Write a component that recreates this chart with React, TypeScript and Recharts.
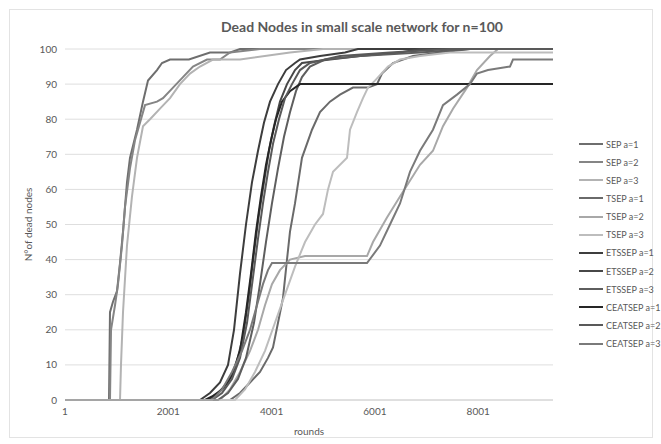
import React from "react";
import { LineChart, Line, XAxis, YAxis, CartesianGrid } from "recharts";

// rounds / dead nodes
const sepA1: [number, number][] = [[1, 0], [853, 0], [872, 25], [930, 28], [1008, 31], [1066, 39], [1124, 48], [1201, 62], [1259, 69], [1395, 77], [1511, 85], [1608, 91], [1782, 94], [1879, 96], [2034, 97], [2400, 97], [2808, 99], [3200, 99], [3389, 100], [9449, 100]];
const sepA2: [number, number][] = [[1, 0], [872, 0], [892, 20], [969, 27], [1027, 33], [1104, 44], [1163, 55], [1259, 66], [1356, 74], [1453, 79], [1550, 84], [1782, 85], [1898, 86], [2092, 89], [2285, 92], [2479, 95], [2750, 97], [3002, 97], [3195, 99], [3776, 100], [9449, 100]];
const sepA3: [number, number][] = [[1, 0], [1066, 0], [1085, 10], [1124, 25], [1201, 44], [1298, 58], [1395, 69], [1511, 78], [1647, 80], [1840, 83], [2034, 86], [2227, 90], [2421, 93], [2615, 95], [2866, 97], [3389, 97], [4357, 99], [5000, 100], [9449, 100]];
const tsepA1: [number, number][] = [[1, 0], [3195, 0], [3389, 2], [3583, 5], [3776, 8], [3931, 12], [4028, 15], [4125, 22], [4221, 29], [4299, 40], [4357, 48], [4454, 56], [4589, 69], [4783, 77], [4938, 82], [5131, 85], [5325, 87], [5576, 89], [5867, 89], [6041, 90], [6138, 93], [6351, 96], [6738, 98], [7261, 99], [7842, 100], [9449, 100]];
const tsepA2: [number, number][] = [[1, 0], [3002, 0], [3195, 3], [3389, 8], [3583, 14], [3738, 20], [3873, 27], [4008, 33], [4163, 37], [4357, 40], [4648, 41], [5848, 41], [5964, 45], [6235, 52], [6487, 58], [6874, 67], [7125, 71], [7319, 78], [7513, 83], [7784, 89], [7977, 94], [8229, 98], [8384, 100], [9449, 100]];
const tsepA3: [number, number][] = [[1, 0], [3292, 0], [3486, 3], [3679, 8], [3873, 14], [4066, 22], [4260, 30], [4454, 38], [4648, 45], [4841, 50], [4996, 53], [5093, 60], [5190, 65], [5461, 69], [5519, 77], [5654, 82], [5770, 86], [5867, 89], [6002, 91], [6254, 95], [6487, 97], [6874, 98], [7455, 99], [9449, 99]];
const etssepA1: [number, number][] = [[1, 0], [2615, 0], [2808, 2], [3002, 5], [3157, 10], [3273, 20], [3389, 36], [3505, 50], [3621, 62], [3738, 71], [3853, 79], [3970, 85], [4125, 90], [4280, 94], [4454, 96], [4551, 97], [4938, 98], [5422, 99], [5673, 100], [9449, 100]];
const etssepA2: [number, number][] = [[1, 0], [2770, 0], [2963, 2], [3157, 5], [3311, 10], [3447, 18], [3563, 30], [3660, 42], [3757, 53], [3853, 62], [3950, 71], [4047, 78], [4163, 85], [4299, 90], [4454, 94], [4589, 96], [5131, 97], [5712, 98], [6487, 99], [6874, 100], [9449, 100]];
const etssepA3: [number, number][] = [[1, 0], [2963, 0], [3157, 2], [3350, 6], [3505, 12], [3660, 22], [3776, 33], [3892, 45], [4008, 56], [4125, 66], [4241, 75], [4357, 82], [4473, 88], [4589, 92], [4744, 95], [5035, 97], [5712, 98], [6874, 99], [7842, 100], [9449, 100]];
const ceatsepA1: [number, number][] = [[1, 0], [2712, 0], [2847, 1], [3041, 3], [3234, 7], [3389, 14], [3505, 25], [3602, 36], [3699, 48], [3795, 58], [3892, 67], [3989, 74], [4086, 80], [4202, 85], [4357, 88], [4551, 90], [9449, 90]];
const ceatsepA2: [number, number][] = [[1, 0], [2847, 0], [3041, 2], [3234, 6], [3389, 12], [3525, 22], [3641, 35], [3738, 46], [3834, 56], [3931, 65], [4028, 73], [4144, 80], [4260, 86], [4396, 90], [4551, 94], [4744, 96], [5325, 98], [6293, 99], [7455, 100], [9449, 100]];
const ceatsepA3: [number, number][] = [[1, 0], [2847, 0], [3041, 3], [3234, 8], [3428, 14], [3583, 20], [3718, 27], [3834, 33], [3931, 37], [4008, 39], [5848, 39], [6099, 44], [6293, 50], [6487, 56], [6680, 65], [6874, 71], [7125, 77], [7319, 84], [7590, 87], [7842, 90], [7977, 93], [8190, 94], [8616, 95], [8674, 97], [9449, 97]];

const seriesNames = ["SEP a=1", "SEP a=2", "SEP a=3", "TSEP a=1", "TSEP a=2", "TSEP a=3", "ETSSEP a=1", "ETSSEP a=2", "ETSSEP a=3", "CEATSEP a=1", "CEATSEP a=2", "CEATSEP a=3"];
const seriesValues = [sepA1, sepA2, sepA3, tsepA1, tsepA2, tsepA3, etssepA1, etssepA2, etssepA3, ceatsepA1, ceatsepA2, ceatsepA3];
const seriesColors = ["#6e6e6e", "#858585", "#b3b3b3", "#6a6a6a", "#a8a8a8", "#bdbdbd", "#3d3d3d", "#474747", "#5e5e5e", "#262626", "#595959", "#7a7a7a"];

const xTicks = [1, 2001, 4001, 6001, 8001];
const yTicks = [0, 10, 20, 30, 40, 50, 60, 70, 80, 90, 100];
const lastRound = 9449;

const font = "Lato, 'Open Sans', sans-serif";

function LegendBox() {
  return (
    <div style={{ position: "absolute", left: 579, top: 135, fontFamily: font, fontSize: 9, color: "#595959" }}>
      {seriesNames.map((name, i) => (
        <div key={name} style={{ height: 18.15, display: "flex", alignItems: "center" }}>
          <svg width={24} height={4} style={{ marginRight: 3 }}>
            <line x1={0} y1={2} x2={24} y2={2} stroke={seriesColors[i]} strokeWidth={2} />
          </svg>
          <span>{name}</span>
        </div>
      ))}
    </div>
  );
}

export default function App() {
  return (
    <div style={{ position: "absolute", left: 0, top: 0, width: 661, height: 444, background: "#fff" }}>
      <div style={{ position: "absolute", left: 9, top: 9, width: 642, height: 427, border: "1px solid #e3e3e3" }} />
      <div
        style={{
          position: "absolute",
          left: 0,
          top: 19,
          width: 724,
          textAlign: "center",
          fontFamily: font,
          fontWeight: 700,
          fontSize: 14,
          lineHeight: "16px",
          color: "#595959",
        }}
      >
        Dead Nodes in small scale network for n=100
      </div>
      <LineChart width={661} height={444} margin={{ top: 49, right: 108, bottom: 0, left: 0 }}>
        <CartesianGrid vertical={false} stroke="#dedede" />
        <XAxis
          type="number"
          dataKey="r"
          domain={[1, lastRound]}
          ticks={xTicks}
          interval={0}
          height={44}
          tickLine={false}
          axisLine={{ stroke: "#d0d0d0" }}
          tick={{ fontSize: 10, fill: "#595959", fontFamily: font }}
          label={{ value: "rounds", position: "insideBottom", offset: 9, fontSize: 10, fill: "#595959", fontFamily: font }}
        />
        <YAxis
          type="number"
          domain={[0, 100]}
          ticks={yTicks}
          interval={0}
          width={65}
          tickLine={false}
          axisLine={false}
          tick={{ fontSize: 10, fill: "#595959", fontFamily: font }}
          label={{
            value: "N°of dead nodes",
            angle: -90,
            position: "insideLeft",
            offset: 28,
            fontSize: 10,
            fill: "#595959",
            fontFamily: font,
            style: { textAnchor: "middle" },
          }}
        />
        {seriesValues.map((pts, i) => (
          <Line
            key={seriesNames[i]}
            name={seriesNames[i]}
            data={pts.map(([r, v]) => ({ r, v }))}
            dataKey="v"
            type="linear"
            stroke={seriesColors[i]}
            strokeWidth={2}
            dot={false}
            isAnimationActive={false}
          />
        ))}
      </LineChart>
      <LegendBox />
    </div>
  );
}
